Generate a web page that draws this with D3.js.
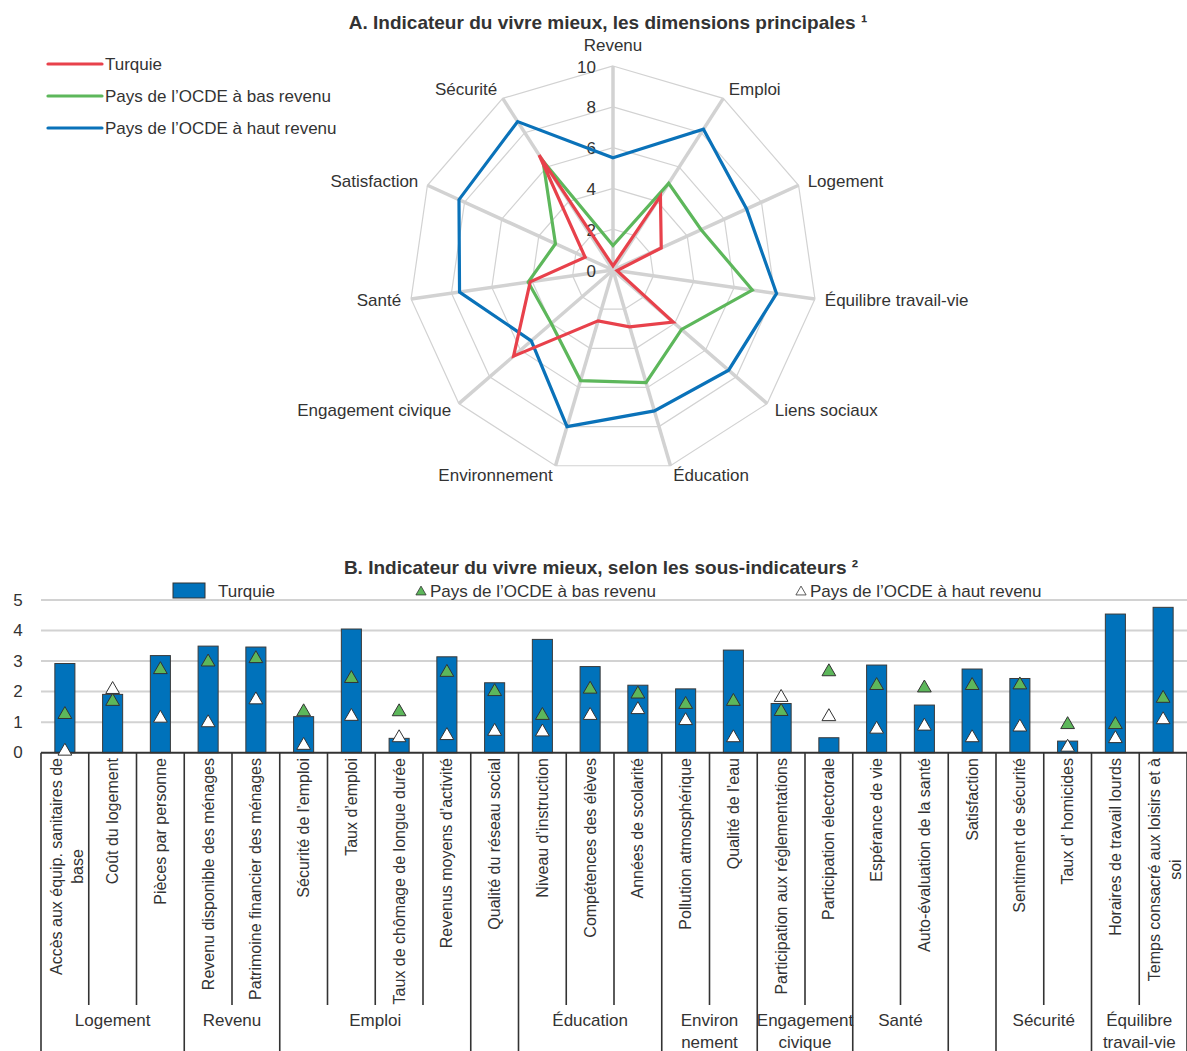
<!DOCTYPE html>
<html lang="fr">
<head>
<meta charset="utf-8">
<script src="https://cdn.jsdelivr.net/npm/d3@7"></script>
<style>
  html, body { margin: 0; padding: 0; background: #fff; }
  svg text { font-family: "Liberation Sans Narrow", "Arial Narrow", "Liberation Sans", Arial, sans-serif; fill: #333; }
</style>
</head>
<body>
<svg id="chart" width="1187" height="1051"></svg>
<script>
// ---- Panel A: main dimensions (radar) ----
const dimensions = ["Revenu", "Emploi", "Logement", "Équilibre travail-vie", "Liens sociaux",
  "Éducation", "Environnement", "Engagement civique", "Santé", "Satisfaction", "Sécurité"];
const radarTurquie = [0.2, 4.3, 2.6, 0.2, 3.9, 2.9, 2.6, 6.45, 4.1, 1.5, 6.7];
const radarBas     = [1.2, 5.05, 4.75, 6.9, 4.45, 5.75, 5.65, 4.0, 4.2, 3.1, 6.35];
const radarHaut    = [5.5, 8.2, 7.2, 8.1, 7.5, 7.2, 8.0, 5.3, 7.6, 8.3, 8.65];
const radarTicks = [0, 2, 4, 6, 8, 10];
const seriesNames = ["Turquie", "Pays de l’OCDE à bas revenu", "Pays de l’OCDE à haut revenu"];

// ---- Panel B: sub-indicators ----
const subLabels = [
  ["Accès aux équip. sanitaires de", "base"], ["Coût du logement"], ["Pièces par personne"],
  ["Revenu disponible des ménages"], ["Patrimoine financier des ménages"],
  ["Sécurité de l’emploi"], ["Taux d’emploi"], ["Taux de chômage de longue durée"], ["Revenus moyens d’activité"],
  ["Qualité du réseau social"],
  ["Niveau d’instruction"], ["Compétences des élèves"], ["Années de scolarité"],
  ["Pollution atmosphérique"], ["Qualité de l’eau"],
  ["Participation aux réglementations"], ["Participation électorale"],
  ["Espérance de vie"], ["Auto-évaluation de la santé"],
  ["Satisfaction"],
  ["Sentiment de sécurité"], ["Taux d’ homicides"],
  ["Horaires de travail lourds"], ["Temps consacré aux loisirs et à", "soi"]
];
const subTurquie = [2.92, 1.91, 3.18, 3.49, 3.46, 1.18, 4.05, 0.47, 3.14, 2.29, 3.71, 2.82,
  2.21, 2.09, 3.36, 1.61, 0.49, 2.87, 1.56, 2.74, 2.43, 0.38, 4.54, 4.76];
const subBas = [1.25, 1.68, 2.72, 2.97, 3.08, 1.34, 2.43, 1.34, 2.63, 2.0, 1.22, 2.08,
  1.92, 1.58, 1.68, 1.35, 2.65, 2.2, 2.12, 2.2, 2.22, 0.92, 0.92, 1.78];
const subHaut = [0.05, 2.07, 1.13, 0.98, 1.73, 0.24, 1.19, 0.49, 0.56, 0.70, 0.68, 1.22,
  1.41, 1.05, 0.49, 1.81, 1.18, 0.77, 0.87, 0.49, 0.84, 0.18, 0.46, 1.08];
const groups = [
  { name: ["Logement"], start: 0, end: 3 },
  { name: ["Revenu"], start: 3, end: 5 },
  { name: ["Emploi"], start: 5, end: 9 },
  { name: [""], start: 9, end: 10 },
  { name: ["Éducation"], start: 10, end: 13 },
  { name: ["Environ", "nement"], start: 13, end: 15 },
  { name: ["Engagement", "civique"], start: 15, end: 17 },
  { name: ["Santé"], start: 17, end: 19 },
  { name: [""], start: 19, end: 20 },
  { name: ["Sécurité"], start: 20, end: 22 },
  { name: ["Équilibre", "travail-vie"], start: 22, end: 24 }
];
const barTicks = [0, 1, 2, 3, 4, 5];

const colors = { turquie: "#E8414B", bas: "#5DB75B", haut: "#0A72B9", bar: "#0072BB" };
const gridColor = "#d2d2d2";
const axisColor = "#333";
const fs = "17px";

const svg = d3.select("#chart");

// ================= Panel A =================
const cx = 613, cy = 270, R = 204;
const rScale = d3.scaleLinear().domain([0, 10]).range([0, R]);
const angle = i => i * 2 * Math.PI / dimensions.length;
const pt = (i, v) => [cx + Math.sin(angle(i)) * rScale(v), cy - Math.cos(angle(i)) * rScale(v)];

svg.append("text").attr("x", 608).attr("y", 22).attr("text-anchor", "middle")
  .attr("dominant-baseline", "central")
  .style("font-size", "19px").style("font-weight", "bold")
  .text("A. Indicateur du vivre mieux, les dimensions principales ¹");

const radar = svg.append("g");
// rings
radarTicks.filter(t => t > 0).forEach(t => {
  radar.append("path")
    .attr("d", d3.line()(dimensions.map((_, i) => pt(i, t))) + "Z")
    .attr("fill", "none").attr("stroke", gridColor).attr("stroke-width", 1.2);
});
// spokes
dimensions.forEach((_, i) => {
  const [x2, y2] = pt(i, 10);
  radar.append("line").attr("x1", cx).attr("y1", cy).attr("x2", x2).attr("y2", y2)
    .attr("stroke", gridColor).attr("stroke-width", 3.5);
});
// tick labels
radarTicks.forEach(t => {
  radar.append("text").attr("x", cx - 17).attr("y", cy - rScale(t) + 1)
    .attr("text-anchor", "end").attr("dominant-baseline", "central")
    .style("font-size", fs).text(t);
});
// axis labels
dimensions.forEach((d, i) => {
  const a = angle(i);
  const s = Math.sin(a);
  let [x, y] = [cx + s * 214, cy - Math.cos(a) * 214];
  let anchor = Math.abs(s) < 0.05 ? "middle" : (s > 0 ? "start" : "end");
  if (i === 0) y -= 11;
  radar.append("text").attr("x", x).attr("y", y).attr("text-anchor", anchor)
    .attr("dominant-baseline", "central").style("font-size", fs).text(d);
});
// series polygons
const radarSeries = [
  { vals: radarHaut, color: colors.haut },
  { vals: radarBas, color: colors.bas },
  { vals: radarTurquie, color: colors.turquie }
];
radarSeries.forEach(s => {
  radar.append("path")
    .attr("d", d3.line()(s.vals.map((v, i) => pt(i, v))) + "Z")
    .attr("fill", "none").attr("stroke", s.color).attr("stroke-width", 3.2)
    .attr("stroke-linejoin", "miter");
});
// legend A
const legA = svg.append("g");
[colors.turquie, colors.bas, colors.haut].forEach((c, i) => {
  const y = 64 + i * 32;
  legA.append("line").attr("x1", 48).attr("x2", 102).attr("y1", y).attr("y2", y)
    .attr("stroke", c).attr("stroke-width", 3.2).attr("stroke-linecap", "round");
  legA.append("text").attr("x", 105).attr("y", y).attr("dominant-baseline", "central")
    .style("font-size", fs).text(seriesNames[i]);
});

// ================= Panel B =================
const left = 41, right = 1187;
const y0 = 752.7, y5 = 600;
const n = subLabels.length;
const idx = d3.range(n);
const x = d3.scaleBand().domain(idx).range([left, right]).paddingInner(0.58).paddingOuter(0.29);
const xCell = d3.scaleBand().domain(idx).range([left, right]).padding(0);
const y = d3.scaleLinear().domain([0, 5]).range([y0, y5]);

svg.append("text").attr("x", 601).attr("y", 567).attr("text-anchor", "middle")
  .attr("dominant-baseline", "central")
  .style("font-size", "19px").style("font-weight", "bold")
  .text("B. Indicateur du vivre mieux, selon les sous-indicateurs ²");

// gridlines
const gB = svg.append("g");
barTicks.filter(t => t > 0).forEach(t => {
  gB.append("line").attr("x1", left).attr("x2", right).attr("y1", y(t)).attr("y2", y(t))
    .attr("stroke", gridColor).attr("stroke-width", 2);
});
barTicks.forEach(t => {
  gB.append("text").attr("x", 18).attr("y", y(t)).attr("text-anchor", "middle")
    .attr("dominant-baseline", "central").style("font-size", fs).text(t);
});

// bars
gB.selectAll("rect.bar").data(subTurquie).join("rect").attr("class", "bar")
  .attr("x", (d, i) => x(i)).attr("width", x.bandwidth())
  .attr("y", d => y(d)).attr("height", d => y(0) - y(d))
  .attr("fill", colors.bar).attr("stroke", "#3a3a3a").attr("stroke-width", 1);

// axis line
gB.append("line").attr("x1", left).attr("x2", right).attr("y1", y0).attr("y2", y0)
  .attr("stroke", axisColor).attr("stroke-width", 2);

// separators
const groupEdges = new Set([0, ...groups.map(g => g.end)]);
d3.range(n + 1).forEach(i => {
  const xx = left + i * xCell.step();
  gB.append("line").attr("x1", xx).attr("x2", xx).attr("y1", y0)
    .attr("y2", groupEdges.has(i) ? 1051 : 1005)
    .attr("stroke", axisColor).attr("stroke-width", 1.6);
});

// triangles
const tri = d3.symbol().type(d3.symbolTriangle).size(82);
gB.selectAll("path.bas").data(subBas).join("path").attr("class", "bas")
  .attr("d", tri).attr("transform", (d, i) => `translate(${x(i) + x.bandwidth() / 2},${y(d)})`)
  .attr("fill", colors.bas).attr("stroke", "#333").attr("stroke-width", 1);
gB.selectAll("path.haut").data(subHaut).join("path").attr("class", "haut")
  .attr("d", tri).attr("transform", (d, i) => `translate(${x(i) + x.bandwidth() / 2},${y(d)})`)
  .attr("fill", "#fff").attr("stroke", "#333").attr("stroke-width", 1);

// category labels (rotated)
subLabels.forEach((lines, i) => {
  const c = x(i) + x.bandwidth() / 2;
  const g = gB.append("g").attr("transform", `translate(${c},758) rotate(-90)`);
  const texts = lines.map((l, k) => g.append("text")
    .attr("y", lines.length === 1 ? 0 : (k === 0 ? -8.5 : 12.5))
    .attr("dominant-baseline", "central").style("font-size", "16px").text(l));
  const maxL = d3.max(texts, t => t.node().getComputedTextLength());
  texts.forEach(t => t.attr("x", -maxL / 2).attr("text-anchor", "middle"));
});

// group labels
groups.forEach(gr => {
  const c = left + (gr.start + gr.end) / 2 * xCell.step();
  gr.name.forEach((l, k) => {
    gB.append("text").attr("x", c).attr("y", 1020 + k * 22).attr("text-anchor", "middle")
      .attr("dominant-baseline", "central").style("font-size", fs).text(l);
  });
});

// legend B
const legB = svg.append("g");
legB.append("rect").attr("x", 173).attr("y", 583).attr("width", 32).attr("height", 15)
  .attr("fill", colors.bar).attr("stroke", "#333").attr("stroke-width", 1);
legB.append("text").attr("x", 218).attr("y", 591).attr("dominant-baseline", "central")
  .style("font-size", fs).text(seriesNames[0]);
const triSmall = d3.symbol().type(d3.symbolTriangle).size(45);
legB.append("path").attr("d", triSmall).attr("transform", "translate(421,592)")
  .attr("fill", colors.bas).attr("stroke", "#333").attr("stroke-width", 0.8);
legB.append("text").attr("x", 430).attr("y", 591).attr("dominant-baseline", "central")
  .style("font-size", fs).text(seriesNames[1]);
legB.append("path").attr("d", triSmall).attr("transform", "translate(801,592)")
  .attr("fill", "#fff").attr("stroke", "#333").attr("stroke-width", 0.8);
legB.append("text").attr("x", 810).attr("y", 591).attr("dominant-baseline", "central")
  .style("font-size", fs).text(seriesNames[2]);
</script>
</body>
</html>
